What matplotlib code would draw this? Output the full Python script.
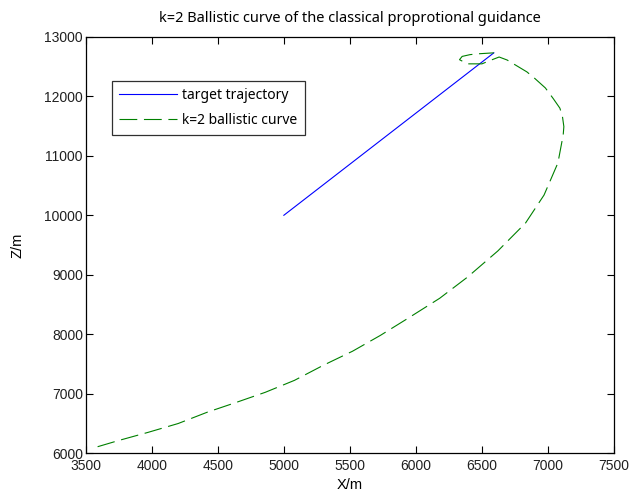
"""
Ballistic curve of classical proportional guidance (k=2) against target trajectory
"""

import matplotlib.pyplot as plt

# target trajectory (straight line)
target_x = [5000, 6590]
target_z = [10000, 12730]

# k=2 ballistic curve
missile_x = [3590, 3750, 3970, 4200, 4420, 4640, 4860, 5080, 5300, 5520,
             5730, 5930, 6180, 6390, 6620, 6830, 6970, 7075, 7115, 7120,
             7110, 7090, 7040, 6980, 6900, 6840, 6690, 6630, 6560, 6500,
             6390, 6330, 6350, 6410, 6480, 6590]
missile_z = [6110, 6215, 6350, 6500, 6690, 6855, 7025, 7225, 7480, 7715,
             7980, 8255, 8605, 8960, 9400, 9870, 10340, 10880, 11350, 11490,
             11650, 11800, 11960, 12140, 12300, 12410, 12610, 12660, 12600, 12545,
             12545, 12615, 12670, 12700, 12715, 12730]

x_ticks = [3500, 4000, 4500, 5000, 5500, 6000, 6500, 7000, 7500]
z_ticks = [6000, 7000, 8000, 9000, 10000, 11000, 12000, 13000]

fig = plt.figure(figsize=(6.35, 4.97), dpi=100)
ax = fig.add_axes([0.135, 0.088, 0.832, 0.838])

ax.plot(target_x, target_z, color=(0, 0, 1), linewidth=0.8, label='target trajectory')
curve, = ax.plot(missile_x, missile_z, color=(0, 0.5, 0), linewidth=0.8,
                 label='k=2 ballistic curve')
curve.set_dashes([16, 6])

ax.set_xlim(3500, 7500)
ax.set_ylim(6000, 13000)
ax.set_xticks(x_ticks)
ax.set_yticks(z_ticks)
ax.tick_params(direction='in', length=5, width=0.8, top=True, right=True,
               labelsize=10, colors='black')
ax.tick_params(axis='x', pad=4)
ax.tick_params(axis='y', pad=2)
for lab in ax.get_xticklabels() + ax.get_yticklabels():
    lab.set_family('Liberation Sans')
    lab.set_color('#202020')
for sp in ax.spines.values():
    sp.set_linewidth(0.9)

ax.set_xlabel('X/m', fontsize=10.5, family='Liberation Sans', labelpad=4)
ax.set_ylabel('Z/m', fontsize=10.5, family='Liberation Sans', labelpad=14)
ax.set_title('k=2 Ballistic curve of the classical proprotional guidance',
             fontsize=10.5, family='Noto Sans', pad=11)

leg = ax.legend(loc='upper left', bbox_to_anchor=(0.049, 0.894), borderaxespad=0,
                fancybox=False, edgecolor='#303030', framealpha=1, handlelength=4.2,
                borderpad=0.5, labelspacing=0.75, handletextpad=0.4,
                prop={'family': 'Noto Sans', 'size': 10})
leg.get_frame().set_linewidth(0.9)

fig.savefig('out.png', dpi=100)
